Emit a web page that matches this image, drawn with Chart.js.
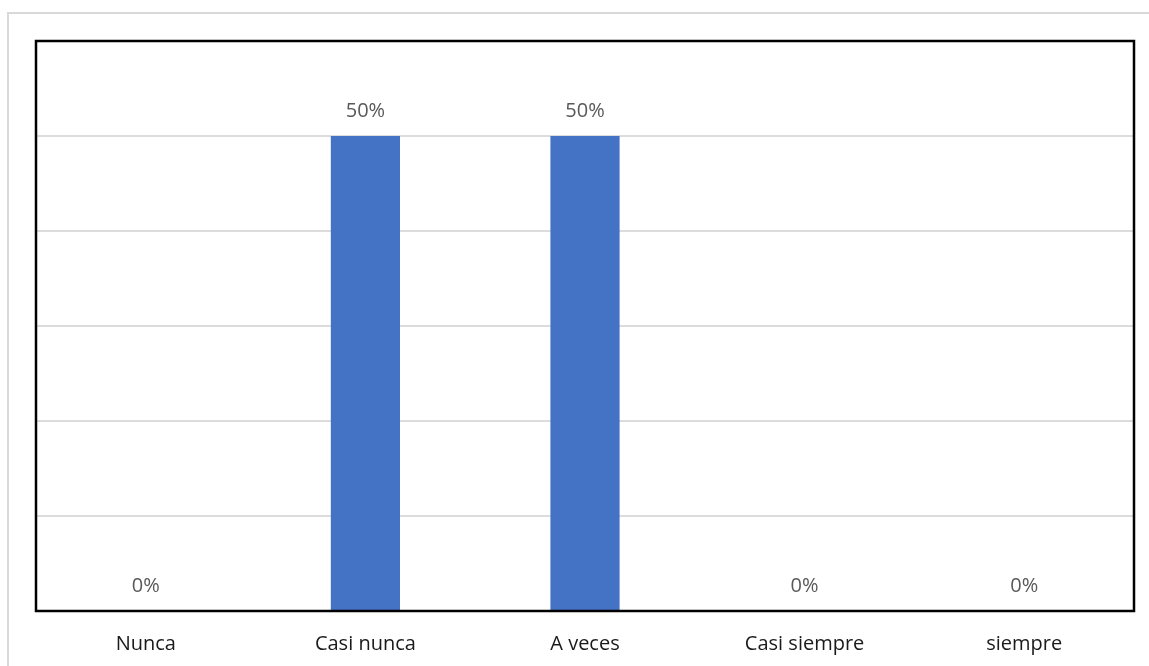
<!DOCTYPE html>
<html>
<head>
<meta charset="utf-8">
<script src="https://cdn.jsdelivr.net/npm/chart.js@4/dist/chart.umd.min.js"></script>
<style>
	html, body { margin: 0; padding: 0; background: #fff; }
	#wrap { width: 1149px; height: 666px; }
</style>
</head>
<body>
<div id="wrap"><canvas id="barChart" width="1149" height="666"></canvas></div>
<script>
// chart data
const categories = ['Nunca', 'Casi nunca', 'A veces', 'Casi siempre', 'siempre'];
const shares = [0, 0.5, 0.5, 0, 0];
const yTicks = [0, 0.1, 0.2, 0.3, 0.4, 0.5, 0.6];

// outer light frame + black box round the plot area
const framePlugin = {
	id: 'frames',
	beforeDraw(chart) {
		const c = chart.ctx;
		c.save();
		c.strokeStyle = '#d9d9d9';
		c.lineWidth = 2;
		c.strokeRect(8, 13, 1160, 700);
		c.restore();
	},
	afterDatasetsDraw(chart) {
		const c = chart.ctx, a = chart.chartArea;
		c.save();
		c.strokeStyle = '#000';
		c.lineWidth = 2.5;
		c.strokeRect(a.left, a.top, a.right - a.left, a.bottom - a.top);
		c.restore();
	}
};

// percent labels above bars
const valueLabels = {
	id: 'valueLabels',
	afterDraw(chart) {
		const c = chart.ctx;
		const meta = chart.getDatasetMeta(0);
		c.save();
		c.font = '20px "Open Sans"';
		c.fillStyle = '#595959';
		c.textAlign = 'center';
		c.textBaseline = 'middle';
		meta.data.forEach((bar, i) => {
			c.fillText(Math.round(shares[i] * 100) + '%', bar.x, bar.y - 25);
		});
		c.restore();
	}
};

new Chart(document.getElementById('barChart'), {
	type: 'bar',
	data: {
		labels: categories,
		datasets: [{
			data: shares,
			backgroundColor: '#4472c4',
			categoryPercentage: 1,
			barPercentage: 0.315
		}]
	},
	options: {
		responsive: false,
		animation: false,
		layout: { padding: { left: 36, top: 41, right: 15, bottom: 0 } },
		plugins: { legend: { display: false }, tooltip: { enabled: false } },
		scales: {
			x: {
				grid: { display: false },
				border: { display: false },
				ticks: { color: '#1a1a1a', font: { family: 'Open Sans', size: 20 }, padding: 13, maxRotation: 0 },
				afterFit(scale) { scale.height = 55; }
			},
			y: {
				min: 0,
				max: 0.6,
				afterBuildTicks(scale) { scale.ticks = yTicks.map(v => ({ value: v })); },
				ticks: { display: false },
				grid: { color: '#dcdcdc', lineWidth: 2, drawTicks: false },
				border: { display: false },
				afterFit(scale) { scale.width = 0; }
			}
		}
	},
	plugins: [framePlugin, valueLabels]
});
</script>
</body>
</html>
